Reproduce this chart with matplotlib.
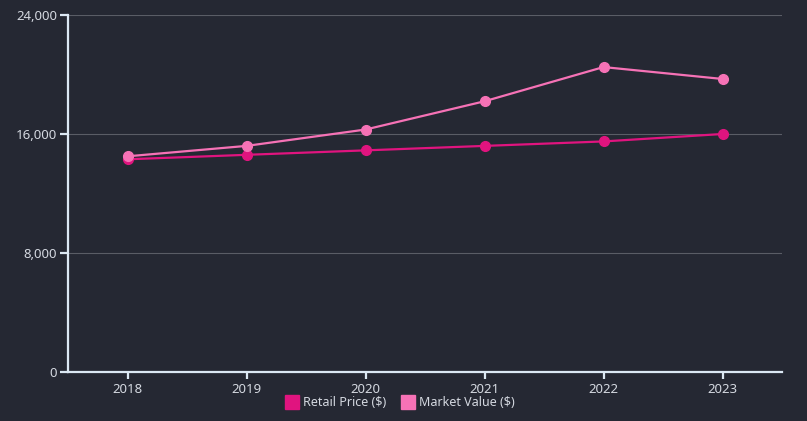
import matplotlib
matplotlib.use("Agg")
import matplotlib.pyplot as plt
from matplotlib.lines import Line2D

years = ["2018", "2019", "2020", "2021", "2022", "2023"]
retail_price = [14300, 14600, 14900, 15200, 15500, 16000]
market_value = [14500, 15200, 16300, 18200, 20500, 19700]
y_ticks = [0, 8000, 16000, 24000]
y_tick_labels = ["0", "8,000", "16,000", "24,000"]

BG = "#252833"
AXIS = "#dce8f4"
TEXT = "#d4d8e0"
GRID = "#5a5d66"
C_RETAIL = "#e0147f"
C_MARKET = "#f672b6"

plt.rcParams['font.family'] = ['Noto Sans', 'DejaVu Sans']

fig = plt.figure(figsize=(8.07, 4.21), dpi=100, facecolor=BG)
ax = fig.add_axes([68/807, 1-372/421, (782-68)/807, (372-15)/421])
ax.set_facecolor(BG)

x = list(range(len(years)))
ax.plot(x, retail_price, color=C_RETAIL, lw=1.6, marker='o', ms=7, zorder=3)
ax.plot(x, market_value, color=C_MARKET, lw=1.6, marker='o', ms=7, zorder=4)

ax.set_xlim(-0.5, len(years) - 0.5)
ax.set_ylim(0, 24000)
ax.set_xticks(x)
ax.set_xticklabels(years)
ax.set_yticks(y_ticks)
ax.set_yticklabels(y_tick_labels)

for v in y_ticks[1:]:
    ax.axhline(v, color=GRID, lw=0.8, zorder=1)

for s in ['top', 'right']:
    ax.spines[s].set_visible(False)
for s in ['left', 'bottom']:
    ax.spines[s].set_color(AXIS)
    ax.spines[s].set_linewidth(1.6)

ax.tick_params(axis='both', colors=AXIS, labelcolor=TEXT, labelsize=9.5, width=1.6)
ax.tick_params(axis='y', length=6, pad=2)
ax.tick_params(axis='x', length=5, pad=3)

handles = [
    Line2D([], [], marker='s', color='none', markerfacecolor=C_RETAIL, markeredgecolor=C_RETAIL, ms=10, label='Retail Price ($)'),
    Line2D([], [], marker='s', color='none', markerfacecolor=C_MARKET, markeredgecolor=C_MARKET, ms=10, label='Market Value ($)'),
]
leg = fig.legend(handles=handles, loc='center', bbox_to_anchor=(400/807, 1-403/421), ncol=2,
                 frameon=False, fontsize=9, handlelength=1.0, handletextpad=0.4, columnspacing=1.2)
for t in leg.get_texts():
    t.set_color(TEXT)

fig.savefig("out.png", dpi=100, facecolor=BG)
